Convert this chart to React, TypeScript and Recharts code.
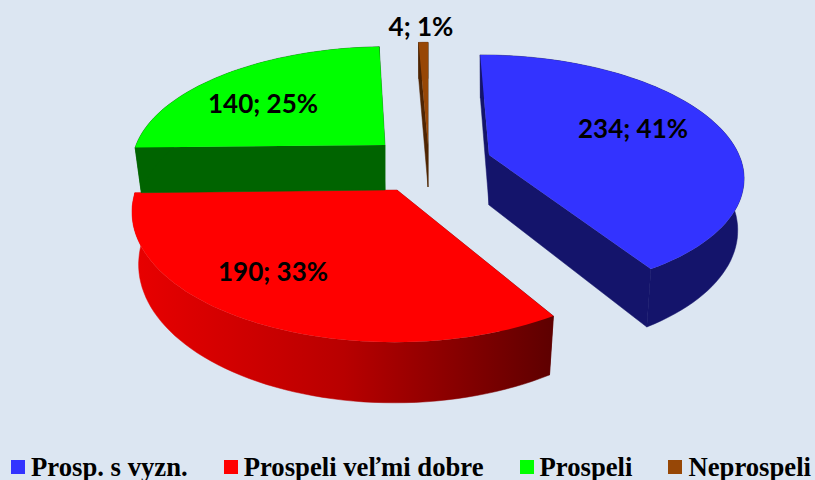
import { Legend, Pie, PieChart } from 'recharts';

const CATEGORIES = ['Prosp. s vyzn.', 'Prospeli veľmi dobre', 'Prospeli', 'Neprospeli'];
const COUNTS = [234, 190, 140, 4];
const PERCENT_LABELS = ['41%', '33%', '25%', '1%'];
const TOP_COLORS = ['#3333ff', '#ff0000', '#00ff00', '#974706'];
const WALL_COLORS = ['#14146b', 'url(#redWall)', '#006400', '#4f2503'];

// 3D look: each slice gets its own apex offset, radius scale, wall height and vanishing x
const SLICE_LAYOUT = [
  { dx: 82, dy: -85, rScale: 1, ry: 116, depth: 50, vanishX: 425, labelX: 633, labelY: 128 },
  { dx: -10, dy: -50, rScale: 1.045, ry: 128, depth: 51, vanishX: 412, labelX: 273, labelY: 271 },
  { dx: -22, dy: -95, rScale: 0.996, ry: 114, depth: 45, vanishX: 412, labelX: 263, labelY: 103 },
  { dx: 21, dy: -95, rScale: 1, ry: 119, depth: 42, vanishX: 428, labelX: 421, labelY: 26 },
];

const PERSPECTIVE = 0.159;
const WALL_SHRINK = 0.975;

const tableData = CATEGORIES.map((name, i) => ({
  name,
  value: COUNTS[i],
  fill: TOP_COLORS[i],
  percentLabel: PERCENT_LABELS[i],
}));

function project(ax: number, ay: number, r: number, ry: number, vanishX: number, angle: number) {
  const rad = (angle * Math.PI) / 180;
  const u = Math.cos(rad);
  const v = -Math.sin(rad);
  const s = 1 / (1 - PERSPECTIVE * v);
  return { x: vanishX + (ax + r * u - vanishX) * s, y: ay + ry * v * s, s };
}

function toPath(points: Array<{ x: number; y: number }>) {
  return points.map((p, i) => `${i ? 'L' : 'M'}${p.x.toFixed(1)} ${p.y.toFixed(1)}`).join(' ') + ' Z';
}

function Slice3D(props: any) {
  const { cx, cy, outerRadius, startAngle, endAngle, index, fill } = props;
  const layout = SLICE_LAYOUT[index];
  const ax = cx + layout.dx;
  const ay = cy + layout.dy;
  const r = outerRadius * layout.rScale;

  const top: Array<{ x: number; y: number }> = [];
  const bottom: Array<{ x: number; y: number }> = [];
  const steps = Math.max(2, Math.ceil(Math.abs(endAngle - startAngle) / 2));
  for (let i = 0; i <= steps; i++) {
    const angle = startAngle + ((endAngle - startAngle) * i) / steps;
    const p = project(ax, ay, r, layout.ry, layout.vanishX, angle);
    top.push(p);
    bottom.push({ x: ax + (p.x - ax) * WALL_SHRINK, y: p.y + layout.depth * p.s });
  }
  const apexBottom = { x: ax, y: ay + layout.depth };
  const apex = { x: ax, y: ay };
  const wall = WALL_COLORS[index];

  return (
    <g>
      <defs>
        <linearGradient id="redWall" gradientUnits="userSpaceOnUse" x1={135} y1={0} x2={552} y2={0}>
          <stop offset="0%" stopColor="#e80000" />
          <stop offset="50%" stopColor="#b80000" />
          <stop offset="100%" stopColor="#5e0000" />
        </linearGradient>
      </defs>
      <path d={toPath([apex, top[0], bottom[0], apexBottom])} fill={wall} stroke={wall} strokeWidth={0.5} />
      <path d={toPath([apex, top[steps], bottom[steps], apexBottom])} fill={wall} stroke={wall} strokeWidth={0.5} />
      <path d={toPath([...top, ...[...bottom].reverse()])} fill={wall} stroke={wall} strokeWidth={0.5} />
      <path d={toPath([apex, ...top])} fill={fill} />
    </g>
  );
}

function SliceLabel(props: any) {
  const { index, value, percentLabel } = props;
  const layout = SLICE_LAYOUT[index];
  return (
    <text
      x={layout.labelX}
      y={layout.labelY}
      textAnchor="middle"
      dominantBaseline="central"
      fontFamily="Lato"
      fontWeight={700}
      fontSize={26}
      fill="#000000"
    >
      {`${value}; ${percentLabel}`}
    </text>
  );
}

function LegendRow() {
  return (
    <div style={{ display: 'flex', alignItems: 'center', gap: 36, height: 30, whiteSpace: 'nowrap' }}>
      {CATEGORIES.map((name, i) => (
        <span key={name} style={{ display: 'flex', alignItems: 'center' }}>
          <span style={{ width: 14, height: 14, background: TOP_COLORS[i], marginRight: 6 }} />
          <span
            style={{
              fontFamily: '"Liberation Serif"',
              fontWeight: 700,
              fontSize: 26.7,
              color: '#000000',
            }}
          >
            {name}
          </span>
        </span>
      ))}
    </div>
  );
}

export default function App() {
  return (
    <div style={{ position: 'absolute', left: 0, top: 0, width: 815, height: 480, background: '#dce6f2', overflow: 'hidden' }}>
      <PieChart width={815} height={480} margin={{ top: 0, right: 0, bottom: 0, left: 0 }}>
        <Pie
          data={tableData}
          dataKey="value"
          nameKey="name"
          cx={407}
          cy={240}
          outerRadius={250}
          startAngle={90}
          endAngle={-270}
          stroke="none"
          shape={Slice3D}
          label={SliceLabel}
          labelLine={false}
          isAnimationActive={false}
        />
        <Legend
          content={<LegendRow />}
          wrapperStyle={{ position: 'absolute', left: 11, top: 452, width: 804, bottom: 'auto' }}
        />
      </PieChart>
    </div>
  );
}
